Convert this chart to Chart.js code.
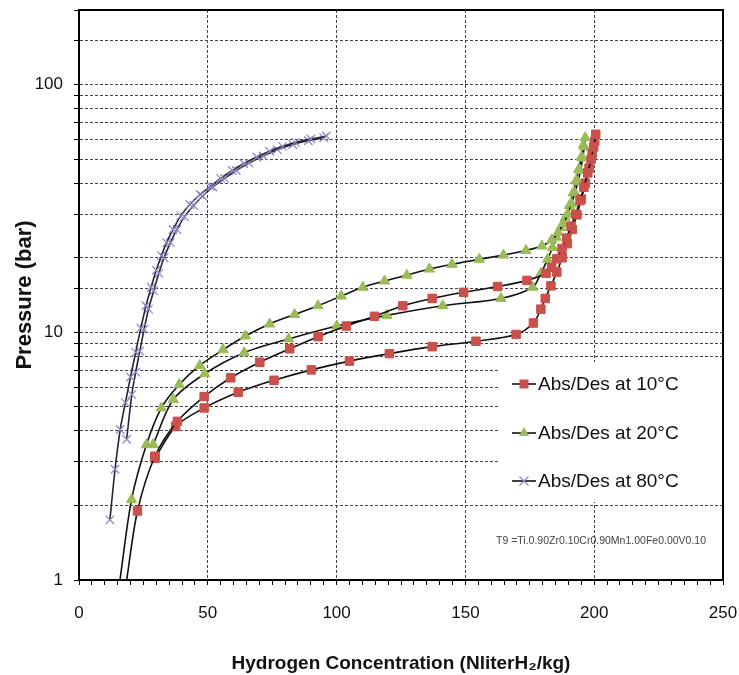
<!DOCTYPE html>
<html>
<head>
<meta charset="utf-8">
<script src="https://cdn.jsdelivr.net/npm/chart.js@4/dist/chart.umd.min.js"></script>
<style>
  html, body { margin: 0; padding: 0; background: #fff; }
  #wrap { width: 739px; height: 675px; }
</style>
</head>
<body>
<div id="wrap"><canvas id="pctChart"></canvas></div>
<script>
// PCT curves, values (x: NliterH2/kg, y: bar)

const legendLabels = ['Abs/Des at 10°C', 'Abs/Des at 20°C', 'Abs/Des at 80°C'];
const alloyNote = 'T9 =Ti.0.90Zr0.10Cr0.90Mn1.00Fe0.00V0.10';
const xTickLabels = [0, 50, 100, 150, 200, 250];
const yTickLabels = [1, 10, 100];

// --- 10°C ---
const x10Abs = [18.5, 22.7, 29.5, 38.2, 48.6, 58.9, 70.2, 81.8, 92.8, 103.8, 114.7, 125.7, 137.1, 149.3, 162.5, 173.9, 181.3,
  183.5, 185.5, 187.5, 189.3, 191, 192.8, 194.5, 196, 197.5, 198.8, 199.8, 200.6];
const p10Abs = [1, 1.9, 3.16, 4.37, 5.5, 6.55, 7.57, 8.58, 9.6, 10.6, 11.6, 12.8, 13.7, 14.5, 15.3, 16.2, 17.3,
  18.3, 19.8, 21.8, 24, 26.8, 30, 34, 38.5, 44, 50, 56, 63];
const x10Des = [200.2, 199.2, 198, 196.6, 195, 193.3, 191.5, 189.6, 187.6, 185.5, 183.2, 181, 179.3, 176.4, 169.7,
  154.1, 137.1, 120.5, 105, 90.2, 75.7, 61.8, 48.6, 37.5, 29.5];
const p10Des = [59, 52.5, 46, 40, 34.5, 29.8, 26, 22.8, 20, 17.5, 15.4, 13.7, 12.4, 10.9, 9.8,
  9.2, 8.75, 8.2, 7.65, 7.05, 6.4, 5.73, 4.95, 4.17, 3.1];

// --- 20°C ---
const x20Abs = [15.9, 20.4, 26.2, 32, 38.9, 46.9, 55.9, 64.6, 74, 83.7, 92.8, 101.8, 110.2, 118.6, 127.3, 136, 144.8, 155.4,
  164.8, 173.5, 179.7, 183.5, 186, 188, 189.7, 191.2, 192.5, 193.7, 194.7, 195.5, 196.2, 196.5];
const p20Abs = [1, 2.11, 3.52, 4.95, 6.15, 7.35, 8.5, 9.66, 10.8, 11.8, 12.8, 14.0, 15.2, 16.1, 17.0, 18.0, 18.8, 19.7,
  20.5, 21.4, 22.3, 23.6, 25.3, 27.5, 30, 33, 36.5, 40.5, 45, 50.5, 56, 61];
const x20Des = [195.8, 195, 194, 193, 191.8, 190.4, 188.8, 187, 185.3, 183.8, 181.9, 179.3, 176.1, 163.8, 141.2,
  119.5, 100.1, 81.4, 64.1, 48.8, 36.6, 28.8];
const p20Des = [57, 51, 45.5, 41, 36.5, 32.5, 29, 26.5, 24.2, 22, 19.7, 17.3, 15.2, 13.7, 12.8,
  11.7, 10.6, 9.4, 8.27, 6.8, 5.35, 3.52];

// --- 80°C ---
const x80Abs = [12, 14, 16, 18, 20, 22, 24, 26, 28, 30, 32, 34, 36.5, 39.5, 43, 47, 51, 55, 59.5, 64, 69, 74, 79, 84, 90, 96];
const p80Abs = [1.75, 2.8, 4.05, 5.2, 6.6, 8.3, 10.4, 12.8, 15.2, 17.8, 20.4, 23.0, 26.0, 29.5, 32.8, 36.0, 38.8, 41.8,
  45.0, 48.0, 51.0, 53.8, 56.3, 58.4, 60.3, 62];
const x80Des = [95, 89, 83, 77, 71.5, 66, 61, 56.5, 52, 48, 44.5, 41, 38, 35.5, 33, 31, 29, 27, 25.3, 23.6, 22, 20.5, 18.5];
const p80Des = [61, 59.3, 57.3, 54.6, 51.5, 48.2, 45, 41.8, 38.6, 35.5, 32.5, 29.3, 26.0, 23.0, 20.0, 17.3, 14.7, 12.4,
  10.3, 8.4, 6.9, 5.6, 3.7];

const pts = (xs, ps) => xs.map((x, i) => ({ x: x, y: ps[i] }));

const rouge = '#C9504B';
const vert = '#9BBB59';
const violet = '#9185C2';
const police = '"Liberation Sans", Arial, sans-serif';

// marker hidden where a curve runs into the x axis
const rayon = (r) => (ctx) => (ctx.raw && ctx.raw.y <= 1 ? 0 : r);

function serie(label, data, style, color, lineColor, r) {
  return {
    label: label,
    data: data,
    showLine: true,
    borderColor: lineColor,
    borderWidth: 1.6,
    tension: 0.3,
    pointStyle: style,
    pointRadius: rayon(r),
    pointHoverRadius: rayon(r),
    pointBackgroundColor: color,
    pointBorderColor: color,
    pointBorderWidth: style === 'crossRot' ? 1.2 : 1,
    fill: false,
    clip: 0,
  };
}

const datasets = [
  serie(legendLabels[0], pts(x10Abs, p10Abs), 'rect', rouge, '#111', 6),
  serie(legendLabels[0], pts(x10Des, p10Des), 'rect', rouge, '#111', 6),
  serie(legendLabels[1], pts(x20Abs, p20Abs), 'triangle', vert, '#111', 6),
  serie(legendLabels[1], pts(x20Des, p20Des), 'triangle', vert, '#111', 6),
  serie(legendLabels[2], pts(x80Abs, p80Abs), 'crossRot', violet, '#2a2338', 6),
  serie(legendLabels[2], pts(x80Des, p80Des), 'crossRot', violet, '#2a2338', 6),
];

// --- box frame (top and right sides) ---
const cadre = {
  id: 'cadre',
  beforeDatasetsDraw(chart) {
    const { ctx, chartArea: a } = chart;
    ctx.save();
    ctx.setLineDash([]);
    ctx.strokeStyle = '#000';
    ctx.lineWidth = 2;
    ctx.strokeRect(a.left, a.top, a.right - a.left, a.bottom - a.top);
    ctx.restore();
  },
};

// --- legend inside the plot + alloy note ---
const legendeInterne = {
  id: 'legendeInterne',
  afterDatasetsDraw(chart) {
    const { ctx, chartArea: a } = chart;
    ctx.save();
    ctx.fillStyle = '#fff';
    ctx.fillRect(500, 362, a.right - 501, 140);

    const rows = [384, 433, 481];
    legendLabels.forEach((lab, i) => {
      const ds = chart.data.datasets[i * 2];
      const y = rows[i];
      ctx.strokeStyle = '#111';
      ctx.lineWidth = 1.6;
      ctx.beginPath();
      ctx.moveTo(512, y);
      ctx.lineTo(536, y);
      ctx.stroke();

      const cx = 524;
      ctx.fillStyle = ds.pointBackgroundColor;
      ctx.strokeStyle = ds.pointBorderColor;
      ctx.lineWidth = ds.pointBorderWidth;
      ctx.beginPath();
      if (ds.pointStyle === 'rect') {
        ctx.rect(cx - 4.5, y - 4.5, 9, 9);
        ctx.fill();
      } else if (ds.pointStyle === 'triangle') {
        ctx.moveTo(cx, y - 6);
        ctx.lineTo(cx + 5.2, y + 3);
        ctx.lineTo(cx - 5.2, y + 3);
        ctx.closePath();
        ctx.fill();
      } else {
        ctx.moveTo(cx - 4.5, y - 4.5);
        ctx.lineTo(cx + 4.5, y + 4.5);
        ctx.moveTo(cx + 4.5, y - 4.5);
        ctx.lineTo(cx - 4.5, y + 4.5);
        ctx.stroke();
      }

      ctx.fillStyle = '#111';
      ctx.font = '19px ' + police;
      ctx.textAlign = 'left';
      ctx.textBaseline = 'middle';
      ctx.fillText(lab, 538, y + 1);
    });

    ctx.fillStyle = '#444';
    ctx.font = '10.5px ' + police;
    ctx.textAlign = 'center';
    ctx.textBaseline = 'middle';
    ctx.fillText(alloyNote, 601, 541);
    ctx.restore();
  },
};

new Chart(document.getElementById('pctChart'), {
  type: 'line',
  data: { datasets: datasets },
  plugins: [cadre, legendeInterne],
  options: {
    responsive: true,
    maintainAspectRatio: false,
    animation: false,
    layout: { padding: { top: 10, right: 16, left: 0, bottom: 0 } },
    plugins: {
      legend: { display: false },
      tooltip: { enabled: false },
    },
    scales: {
      x: {
        type: 'linear',
        min: 0,
        max: 250,
        afterFit: (s) => { s.height = 95; s.paddingLeft = 0; s.paddingRight = 0; },
        ticks: {
          stepSize: 5,
          maxTicksLimit: 60,
          autoSkip: false,
          maxRotation: 0,
          minRotation: 0,
          padding: 18,
          color: '#111',
          font: { family: police, size: 17 },
          callback: (v) => (xTickLabels.includes(v) ? String(v) : ''),
        },
        grid: {
          color: (c) => (c.tick && c.tick.value % 50 === 0 ? '#444' : 'rgba(0,0,0,0)'),
          tickColor: '#000',
          tickLength: 5,
          lineWidth: 1,
        },
        border: { color: '#000', width: 2, dash: [3, 2] },
        title: {
          display: true,
          text: 'Hydrogen Concentration (NliterH₂/kg)',
          color: '#111',
          font: { family: police, size: 19, weight: 'bold' },
          padding: { top: 0, bottom: 0 },
        },
      },
      y: {
        type: 'logarithmic',
        min: 1,
        max: 200,
        afterFit: (s) => { s.width = 79; s.paddingTop = 0; s.paddingBottom = 0; },
        ticks: {
          autoSkip: false,
          padding: 11,
          color: '#111',
          font: { family: police, size: 17 },
          callback: (v) => (yTickLabels.includes(Number(v)) ? String(v) : ''),
        },
        grid: {
          color: '#444',
          tickColor: '#000',
          tickLength: 5,
          lineWidth: 1,
        },
        border: { color: '#000', width: 2, dash: [3, 2] },
        title: {
          display: true,
          text: 'Pressure (bar)',
          color: '#111',
          font: { family: police, size: 22, weight: 'bold' },
          padding: { top: 12, bottom: 0 },
        },
      },
    },
  },
});
</script>
</body>
</html>
